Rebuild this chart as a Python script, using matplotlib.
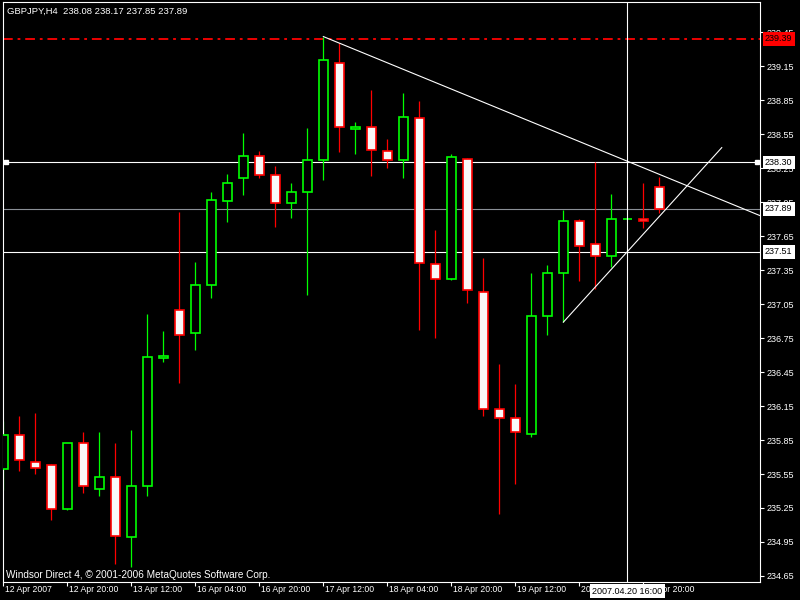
"""
MetaTrader-style GBPJPY H4 candlestick chart, redrawn with plain matplotlib.
Writes out.png (800x600).
"""

import matplotlib

matplotlib.use("Agg")
import matplotlib.pyplot as plt
from matplotlib import transforms
from matplotlib.patches import Rectangle

plt.rcParams["lines.scale_dashes"] = False
plt.rcParams["font.family"] = ["Liberation Sans", "DejaVu Sans"]

HEADER = "GBPJPY,H4  238.08 238.17 237.85 237.89"
FOOTER = "Windsor Direct 4, \u00a9 2001-2006 MetaQuotes Software Corp."

# OHLC per H4 bar
opens = [235.59, 235.89, 235.66, 235.63, 235.24, 235.82, 235.42, 235.52, 234.99, 235.44,
         236.57, 237.00, 236.79, 237.22, 237.96, 238.16, 238.36, 238.19, 237.94, 238.04,
         238.32, 239.18, 238.59, 238.61, 238.40, 238.32, 238.69, 237.40, 237.27, 238.33,
         237.16, 236.12, 236.04, 235.90, 236.94, 237.32, 237.78, 237.58, 237.47, 237.80,
         237.80, 238.08]
highs = [236.02, 236.06, 236.09, 235.64, 235.82, 235.92, 235.92, 235.82, 235.94, 236.96,
         236.81, 237.86, 237.42, 238.04, 238.20, 238.56, 238.40, 238.27, 238.12, 238.60,
         239.41, 239.35, 238.66, 238.94, 238.51, 238.91, 238.84, 237.70, 238.37, 238.34,
         237.46, 236.52, 236.34, 237.32, 237.39, 237.88, 237.80, 238.30, 238.02, 237.80,
         238.12, 238.17]
lows = [235.41, 235.58, 235.55, 235.14, 235.23, 235.38, 235.36, 234.76, 234.73, 235.36,
        236.54, 236.35, 236.64, 237.10, 237.77, 238.01, 238.16, 237.73, 237.81, 237.13,
        238.14, 238.39, 238.37, 238.18, 238.25, 238.16, 236.82, 236.75, 237.26, 237.06,
        236.06, 235.20, 235.46, 235.88, 236.78, 236.89, 237.25, 237.18, 237.38, 237.80,
        237.72, 237.85]
closes = [235.89, 235.67, 235.60, 235.24, 235.82, 235.44, 235.52, 235.00, 235.44, 236.58,
          236.59, 236.78, 237.22, 237.97, 238.12, 238.36, 238.19, 237.94, 238.04, 238.32,
          239.20, 238.61, 238.61, 238.41, 238.32, 238.70, 237.41, 237.27, 238.35, 237.17,
          236.12, 236.04, 235.92, 236.94, 237.32, 237.78, 237.56, 237.47, 237.80, 237.80,
          237.78, 237.89]

time_tick_idx = [0, 4, 8, 12, 16, 20, 24, 28, 32, 36, 40]
time_labels = ["12 Apr 2007", "12 Apr 20:00", "13 Apr 12:00", "16 Apr 04:00", "16 Apr 20:00",
               "17 Apr 12:00", "18 Apr 04:00", "18 Apr 20:00", "19 Apr 12:00", "20 Apr 04:00",
               "20 Apr 20:00"]
price_ticks = [234.65, 234.95, 235.25, 235.55, 235.85, 236.15, 236.45, 236.75, 237.05,
               237.35, 237.65, 237.95, 238.25, 238.55, 238.85, 239.15, 239.45]

high_level = 239.39          # red dash-dot line
white_levels = [238.30, 237.51]
bid_level = 237.89
# trend lines: (bar index, price) anchors
trend_down = [(20, 239.41), (39, 238.31)]   # ray to the right edge
trend_up = [(35, 236.89), (44.9, 238.43)]   # plain segment
cursor_idx = 39
cursor_label = "2007.04.20 16:00"

GREEN = "#00ff00"
RED = "#ff0000"
BULL_FILL = "#000000"
BEAR_FILL = "#f8f8f8"
W, H = 800, 600
LW = 0.8   # ~1 px
FS = 6.5
NARROW = ["Liberation Sans Narrow", "Liberation Sans", "DejaVu Sans"]


def main():
    fig = plt.figure(figsize=(8, 6), dpi=100, facecolor="black")
    ax = fig.add_axes([3 / W, 18 / H, 757 / W, 580 / H], facecolor="black")
    ax.set_xlim(-0.02, 47.29)
    ax.set_ylim(234.597, 239.715)

    for s in ax.spines.values():
        s.set_color("white")
        s.set_linewidth(LW)

    # horizontal objects
    ax.axhline(high_level, color=RED, lw=1.3, linestyle=(0, (7, 3.5, 2, 3.5)), zorder=1)
    for lv in white_levels:
        ax.axhline(lv, color="white", lw=LW, zorder=1)
    ax.axhline(bid_level, color="#8a8f96", lw=LW, zorder=1)
    yx = transforms.blended_transform_factory(ax.transAxes, ax.transData)
    ax.plot([0.004, 0.996], [white_levels[0]] * 2, "s", ms=3.5, color="white",
            transform=yx, clip_on=False, zorder=5)

    # candles
    bw = 0.6
    for i, (o, h, l, c) in enumerate(zip(opens, highs, lows, closes)):
        bull = c >= o
        col = GREEN if bull else RED
        if h > l:
            ax.vlines(i, l, h, color=col, lw=0.9, zorder=2)
        ax.add_patch(Rectangle((i - bw / 2, min(o, c)), bw, abs(c - o),
                               facecolor=BULL_FILL if bull else BEAR_FILL,
                               edgecolor=col, lw=1.2, zorder=3))

    # trend lines
    (x0, y0), (x1, y1) = trend_down
    xr = ax.get_xlim()[1]
    ax.plot([x0, xr], [y0, y0 + (y1 - y0) / (x1 - x0) * (xr - x0)], color="white", lw=LW, zorder=4)
    ax.plot([p[0] for p in trend_up], [p[1] for p in trend_up], color="white", lw=LW, zorder=4)

    # crosshair
    ax.axvline(cursor_idx, color="white", lw=LW, zorder=4)

    # price axis on the right
    ax.yaxis.tick_right()
    ax.set_yticks(price_ticks, labels=[f"{p:.2f}" for p in price_ticks])
    ax.tick_params(axis="y", colors="white", length=3, width=LW, pad=1.5, labelsize=FS)

    # time axis
    ax.set_xticks(time_tick_idx, labels=[""] * len(time_tick_idx))
    ax.tick_params(axis="x", colors="white", length=3, width=LW)
    xt = transforms.offset_copy(ax.get_xaxis_transform(), fig=fig, x=2, y=-8, units="dots")
    for i, lab in zip(time_tick_idx, time_labels):
        ax.text(i, 0, lab, transform=xt, color="white", fontsize=6.2, family=NARROW,
                ha="left", va="center", clip_on=False)
    ct = transforms.offset_copy(ax.get_xaxis_transform(), fig=fig, x=0, y=-9, units="dots")
    ax.text(cursor_idx, 0, cursor_label, transform=ct, color="black", fontsize=FS,
            ha="center", va="center", clip_on=False, zorder=10,
            bbox=dict(boxstyle="square,pad=0.25", fc="white", ec="none"))

    # value boxes on the price scale
    vt = transforms.offset_copy(yx, fig=fig, x=5, y=0, units="dots")
    boxes = [(high_level, RED), (white_levels[0], "white"), (bid_level, "white"),
             (white_levels[1], "white")]
    for lv, fc in boxes:
        ax.text(1.0, lv, f"{lv:.2f}", transform=vt, color="black", fontsize=FS,
                ha="left", va="center", clip_on=False, zorder=10,
                bbox=dict(boxstyle="square,pad=0.25", fc=fc, ec="none"))

    fig.text(7 / W, 1 - 11 / H, HEADER, color="white", fontsize=6.8, ha="left", va="center")
    fig.text(6 / W, 1 - 575 / H, FOOTER, color="white", fontsize=7.2, ha="left", va="center")

    fig.savefig("out.png", dpi=100, facecolor="black")


if __name__ == "__main__":
    main()
